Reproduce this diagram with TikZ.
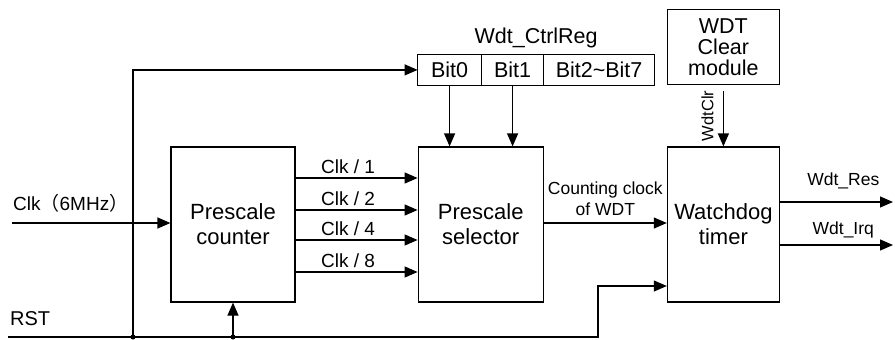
\documentclass[tikz,border=0pt]{standalone}
\usepackage{fontspec}
\setmainfont{Liberation Sans}
\newfontfamily\cjk{Noto Sans CJK SC}
\usetikzlibrary{arrows.meta, positioning, calc}
\tikzstyle{blockbox} = [draw, rectangle, line width=1.2pt, minimum height=155pt, align=center, font=\fontsize{22}{25}\selectfont]
\tikzstyle{regcell} = [draw, rectangle, line width=1.2pt, minimum height=31pt, outer sep=0pt, font=\fontsize{21.5}{24}\selectfont]
\tikzstyle{arrw} = [line width=1.2pt, -{Triangle[length=13pt,width=11pt]}]
\tikzstyle{siglabel} = [font=\fontsize{19}{21}\selectfont, inner sep=2pt]
\tikzstyle{smalllabel} = [font=\fontsize{17.5}{21}\selectfont, align=center, inner sep=2pt]

\begin{document}
\begin{tikzpicture}[x=1pt, y=-1pt]
    \useasboundingbox (0,0) rectangle (895,340);

    % main blocks
    \node (cnt) [blockbox, minimum width=124pt] at (233,224.5) {Prescale\\counter};
    \node (sel) [blockbox, minimum width=125pt, right=122pt of cnt] {Prescale\\selector};
    \node (wd) [blockbox, minimum width=112pt, right=123pt of sel] {Watchdog\\timer};
    \node (clr) [blockbox, minimum width=112pt, minimum height=75pt, font=\fontsize{21.5}{21}\selectfont, above=61pt of wd] {WDT\\Clear\\module};

    % control register
    \node (bit0) [regcell, minimum width=64pt, above right=61pt and 0pt of sel.north west] {Bit0};
    \node (bit1) [regcell, minimum width=62pt, right=0pt of bit0] {Bit1};
    \node (bit2) [regcell, minimum width=111pt, right=0pt of bit1] {Bit2\textasciitilde Bit7};
    \node (regname) [siglabel, font=\fontsize{21.5}{24}\selectfont, above=4pt] at ($(bit0.north west)!0.5!(bit2.north east)$) {Wdt\_CtrlReg};

    \coordinate (clkin) at (12,223);
    \coordinate (rst) at (8,337);
    \coordinate (j1) at (133,337);
    \coordinate (j2) at (cnt.south |- rst);
    \coordinate (rstturn) at (598,337);
    \coordinate (res) at (893,202);
    \coordinate (irq) at (893,245);
    \coordinate (clrtag) at ($(clr.south)!0.5!(wd.north)+(-10pt,0)$);

    % clock input
    \draw [arrw] (clkin) -- (clkin -| cnt.west);
    \node (clklbl) [siglabel, anchor=base west, inner sep=0pt] at (13,210) {Clk{\cjk（}6MHz{\cjk）}};

    % divided clocks
    \foreach \yy/\dv in {178/1, 210/2, 240/4, 272/8}
        \draw [arrw] (cnt.east |- 0,\yy) -- (sel.west |- 0,\yy) node [siglabel, pos=0.43, above=2pt] {Clk / \dv};

    \draw [arrw] (bit0.south) -- (bit0.south |- sel.north);
    \draw [arrw] (bit1.south) -- (bit1.south |- sel.north);

    \draw [arrw] (sel.east |- 0,223) -- (wd.west |- 0,223) node [smalllabel, midway, above=5pt] {Counting clock\\of WDT};

    % outputs
    \draw [arrw] (wd.east |- res) -- (res) node [smalllabel, pos=0.56, above=10pt] {Wdt\_Res};
    \draw [arrw] (wd.east |- irq) -- (irq) node [smalllabel, pos=0.56, above=4pt] {Wdt\_Irq};

    % clear signal
    \draw [arrw] ([yshift=-6pt]clr.south) -- (wd.north);
    \node (clrlbl) [smalllabel, font=\fontsize{16.5}{18}\selectfont, rotate=90, anchor=base, inner sep=0pt] at (clrtag) {WdtClr};

    % reset
    \node (rstlbl) [siglabel, font=\fontsize{20}{22}\selectfont, anchor=base west, inner sep=0pt] at (10,325) {RST};
    \draw [arrw] (rst) -- (rstturn) |- (wd.west |- 0,286);
    \draw [arrw] (j1) |- (bit0.west);
    \draw [arrw] (j2) -- (cnt.south);
    \fill (j1) circle (2.5pt);
    \fill (j2) circle (2.5pt);
\end{tikzpicture}
\end{document}
